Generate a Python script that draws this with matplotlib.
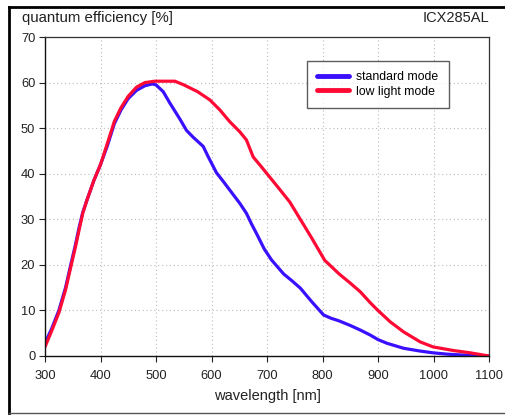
import matplotlib
matplotlib.use("Agg")
import matplotlib.pyplot as plt
from matplotlib.lines import Line2D

plt.rcParams['font.family'] = ['Liberation Sans', 'DejaVu Sans']

std_wl = [300, 312, 325, 337, 346, 355, 362, 368, 375, 388, 400, 412, 425, 437, 450, 465, 480, 493,
          500, 513, 525, 543, 555, 567, 585, 595, 609, 620, 633, 651, 663, 672, 681, 695, 708,
          730, 745, 760, 780, 802, 815, 830, 850, 868, 886, 900, 916, 946, 975, 999, 1025, 1054, 1100]
std_qe = [2.8, 6, 10, 15, 19.8, 24.5, 28.5, 31.5, 34, 38.5, 42, 46, 51, 54, 56.5, 58.3, 59.3, 59.7,
          59.5, 58, 55.5, 52, 49.5, 48, 46, 43.5, 40.2, 38.5, 36.4, 33.5, 31.3, 29, 26.9, 23.5, 21.1,
          18, 16.5, 14.9, 12, 9, 8.3, 7.7, 6.7, 5.7, 4.6, 3.6, 2.8, 1.7, 1.1, 0.7, 0.4, 0.2, 0]

low_wl = [300, 312, 325, 337, 346, 355, 362, 368, 375, 388, 400, 412, 425, 437, 450, 465, 480, 498,
          534, 550, 575, 597, 615, 633, 651, 663, 675, 690, 702, 720, 741, 760, 780, 804, 830,
          850, 868, 886, 899, 922, 946, 976, 999, 1036, 1066, 1100]
low_qe = [2.0, 5.5, 9.5, 14.5, 19.3, 24, 28, 31.3, 34, 38.5, 42, 46.5, 51.5, 54.5, 57, 59, 60, 60.3,
          60.3, 59.5, 58, 56.2, 54, 51.4, 49.2, 47.4, 43.7, 41.5, 39.7, 37, 33.8, 30, 26, 21, 18,
          16, 14.1, 11.7, 10.1, 7.5, 5.3, 3.1, 2.0, 1.2, 0.7, 0]

x_ticks = [300, 400, 500, 600, 700, 800, 900, 1000, 1100]
y_ticks = [0, 10, 20, 30, 40, 50, 60, 70]

fig = plt.figure(figsize=(5.06, 4.18), dpi=100)
ax = fig.add_axes([45/506, 1-356/418, 444/506, 319/418])

ax.plot(std_wl, std_qe, color='#3a10ff', lw=2.3, label='standard mode',
        solid_capstyle='round', solid_joinstyle='round')
ax.plot(low_wl, low_qe, color='#ff0a35', lw=2.3, label='low light mode',
        solid_capstyle='round', solid_joinstyle='round')

ax.set_xlim(300, 1100)
ax.set_ylim(0, 70)
ax.set_xticks(x_ticks)
ax.set_yticks(y_ticks)
ax.tick_params(labelsize=9.3, length=4, width=0.8, colors='#222222', direction='out', pad=3)
ax.tick_params(axis='x', pad=6)
ax.grid(True, linestyle=(0, (1, 2.5)), color='#bbbbbb', lw=0.8)
for s in ['left', 'bottom']:
    ax.spines[s].set_color('#111111')
    ax.spines[s].set_linewidth(1.0)
for s in ['top', 'right']:
    ax.spines[s].set_color('#333333')
    ax.spines[s].set_linewidth(0.9)

ax.set_xlabel('wavelength [nm]', fontsize=10.5, color='#222222', labelpad=5)

leg = ax.legend(loc='upper left', bbox_to_anchor=((306.7-45)/444, (356-60.7)/319),
                borderaxespad=0, fontsize=8.8, frameon=True, fancybox=False, handlelength=2.6,
                borderpad=0.85, labelspacing=0.2, handletextpad=0.6)
leg.get_frame().set_edgecolor('#333333')
leg.get_frame().set_linewidth(1.0)
for h in leg.get_lines():
    h.set_linewidth(3.5)

fig.text(22/506, 1-22/418, 'quantum efficiency [%]', fontsize=10.8, color='#222222', va='baseline', ha='left')
fig.text(489/506, 1-22/418, 'ICX285AL', fontsize=10.5, color='#222222', va='baseline', ha='right')

# outer frame
fig.add_artist(Line2D([9/506, 1.0], [1-7/418, 1-7/418], color='black', lw=2.0, transform=fig.transFigure))
fig.add_artist(Line2D([9/506, 9/506], [1-7/418, 1-413/418], color='black', lw=2.0, transform=fig.transFigure))
fig.add_artist(Line2D([9/506, 1.0], [1-413/418, 1-413/418], color='#555555', lw=1.0, transform=fig.transFigure))

fig.savefig('out.png', dpi=100)
